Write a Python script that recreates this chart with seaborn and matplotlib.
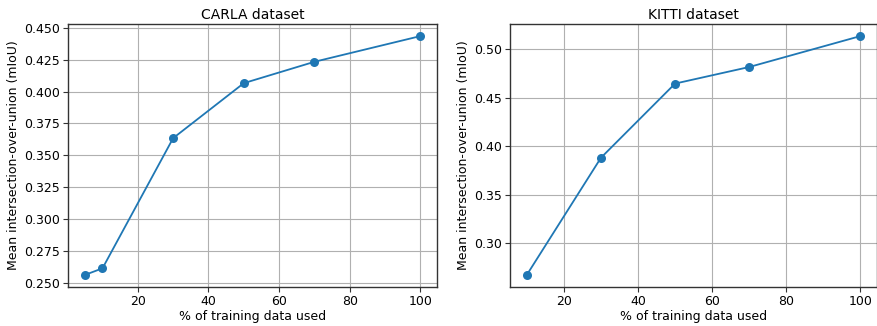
import matplotlib
matplotlib.use("Agg")
import matplotlib.pyplot as plt
import seaborn as sns
import pandas as pd

carla_pct = [5, 10, 30, 50, 70, 100]
carla_miou = [0.256, 0.2612, 0.3635, 0.4067, 0.4235, 0.4437]
kitti_pct = [10, 30, 50, 70, 100]
kitti_miou = [0.2674, 0.3882, 0.4647, 0.4818, 0.5137]

plt.rcParams.update({
    "font.family": ["DejaVu Sans"],
    "font.size": 9,
    "axes.edgecolor": "#333333",
    "axes.linewidth": 1.0,
    "grid.color": "#b0b0b0",
    "grid.linewidth": 0.8,
})

fig = plt.figure(figsize=(8.78, 3.26), dpi=100)
ax1 = fig.add_axes([0.0775, 0.12, 0.4205, 0.806])
ax2 = fig.add_axes([0.581, 0.12, 0.418, 0.806])
axes = [ax1, ax2]

datasets = [
    ("CARLA dataset", carla_pct, carla_miou),
    ("KITTI dataset", kitti_pct, kitti_miou),
]
for ax, (title, xs, ys) in zip(axes, datasets):
    df = pd.DataFrame({"pct": xs, "miou": ys})
    sns.lineplot(data=df, x="pct", y="miou", ax=ax, marker="o", color="#1f77b4",
                 markersize=6.5, markeredgewidth=0, linewidth=1.3)
    ax.grid(True)
    ax.set_axisbelow(True)
    ax.set_title(title, fontsize=10, pad=4)
    ax.set_xlabel("% of training data used", labelpad=1)
    ax.set_ylabel("Mean intersection-over-union (mIoU)", labelpad=3)
    ax.tick_params(direction="out", length=3.5, width=0.8, color="#333333", pad=2.5)

ticks1 = [0.25, 0.275, 0.3, 0.325, 0.35, 0.375, 0.4, 0.425, 0.45]
axes[0].set_yticks(ticks1)
axes[0].set_yticklabels([f"{v:.3f}" for v in ticks1])
axes[0].set_xticks([20, 40, 60, 80, 100])
ticks2 = [0.30, 0.35, 0.40, 0.45, 0.50]
axes[1].set_yticks(ticks2)
axes[1].set_yticklabels([f"{v:.2f}" for v in ticks2])
axes[1].set_xticks([20, 40, 60, 80, 100])

fig.savefig("out.png", dpi=100)
